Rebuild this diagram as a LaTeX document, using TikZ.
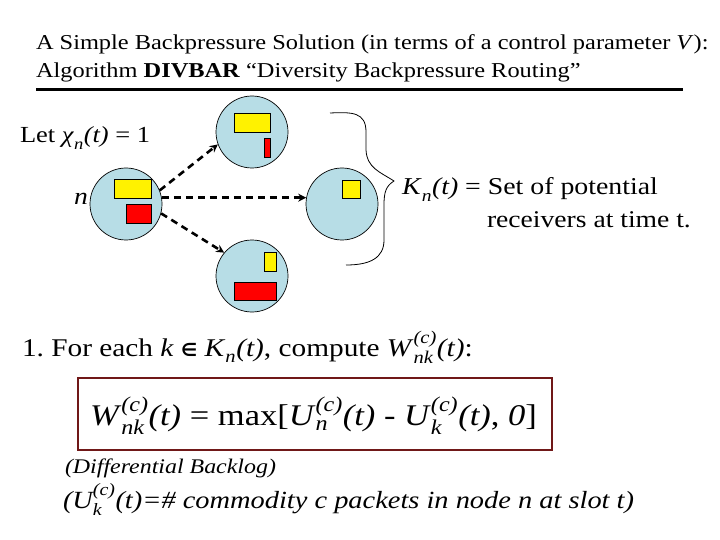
\documentclass[tikz,border=0pt]{standalone}
\usepackage{amsmath}
\usepackage{fontspec}
\setmainfont[FakeStretch=1.15]{Liberation Serif}
\newfontfamily\symfont{DejaVu Sans}
\usetikzlibrary{arrows.meta}
\definecolor{nodeblue}{RGB}{183,221,230}
\definecolor{boxred}{RGB}{112,24,24}
\newcommand\subsup[2]{\ensuremath{_{\text{\itshape #1}}^{\text{\itshape #2}}}}
\newcommand\fs[1]{\fontsize{#1}{#1}\selectfont}
\frenchspacing
\tikzset{
  x=1pt, y=-1pt,
  netnode/.style={circle, draw=black, line width=0.7pt, fill=nodeblue, minimum size=72pt, inner sep=0pt},
  yq/.style={draw=black, line width=0.7pt, fill=yellow},
  rq/.style={draw=black, line width=0.7pt, fill=red},
  dasharrow/.style={line width=2.6pt, dash pattern=on 7pt off 5pt, -{Stealth[length=8pt,width=8pt]}},
  txt/.style={anchor=base west, inner sep=0pt, outer sep=0pt},
}
\begin{document}
\begin{tikzpicture}
\useasboundingbox (0,0) rectangle (720,540);
% title
\node[txt] (t1) at (36,50) {\fs{21.2}A Simple Backpressure Solution (in terms of a control parameter \textit{V}):};
\node[txt] (t2) at (36,78) {\fs{21.2}Algorithm \textbf{DIVBAR} “Diversity Backpressure Routing”};
\draw[line width=3pt] (36,90) -- (683,90);
% nodes
\node[netnode] (n) at (126,204) {};
\node[netnode] (top) at (252,132) {};
\node[netnode] (mid) at (342,204) {};
\node[netnode] (bot) at (252,276) {};
% queues
\draw[yq] (114,179) rectangle (151,198);
\draw[rq] (126,204) rectangle (151,223);
\draw[yq] (234,113) rectangle (270,132);
\draw[rq] (264,138) rectangle (270,157);
\draw[yq] (342,180) rectangle (360,198);
\draw[yq] (264,252) rectangle (276,271);
\draw[rq] (234,282) rectangle (276,300);
% arrows
\draw[dasharrow] (n.22) -- (top.200);
\draw[dasharrow] (n.10) -- (mid.170);
\draw[dasharrow] (n.-15) -- (bot.140);
% brace
\draw[line width=0.8pt] (330,113) .. controls (352,112) and (366,112) .. (366,132) -- (366,150)
  .. controls (367,168) and (380,172) .. (394,181)
  .. controls (386,186) and (384,192) .. (384,205) -- (384,240)
  .. controls (384,258) and (370,265) .. (346,265);
% labels
\node[txt] (let) at (20,143) {\fs{23}Let \textit{χ}\subsup{n}{}\textit{(t)} = 1};
\node[txt] (nl) at (74,205) {\fs{24}\textit{n}};
\node[txt] (kn) at (402,195) {\fs{24.2}\textit{K}\subsup{n}{}\textit{(t)} = Set of potential};
\node[txt] (recv) at (487,228) {\fs{24}receivers at time t.};
\node[txt] (step) at (22,356) {\fs{25.5}1. For each \textit{k} {\symfont\bfseries\fs{18}∈} \textit{K}\subsup{n}{}\textit{(t)}, compute \textit{W}\subsup{nk}{(c)}\textit{(t)}:};
\node[draw=boxred, line width=2.5pt, minimum width=474pt, minimum height=72pt, inner sep=0pt] (box) at (315,414) {};
\node[txt] (form) at (90,425) {\fs{30}\textit{W}\subsup{nk}{(c)}\textit{(t)} = max[\textit{U}\subsup{n}{(c)}\textit{(t)} - \textit{U}\subsup{k}{(c)}\textit{(t)}, \textit{0}]};
\node[txt] (diff) at (65,473) {\fs{20.8}\itshape (Differential Backlog)};
\node[txt] (uk) at (63,508) {\fs{24.7}\itshape (U\subsup{k}{(c)}(t)=\# commodity c packets in node n at slot t)};
\end{tikzpicture}
\end{document}
